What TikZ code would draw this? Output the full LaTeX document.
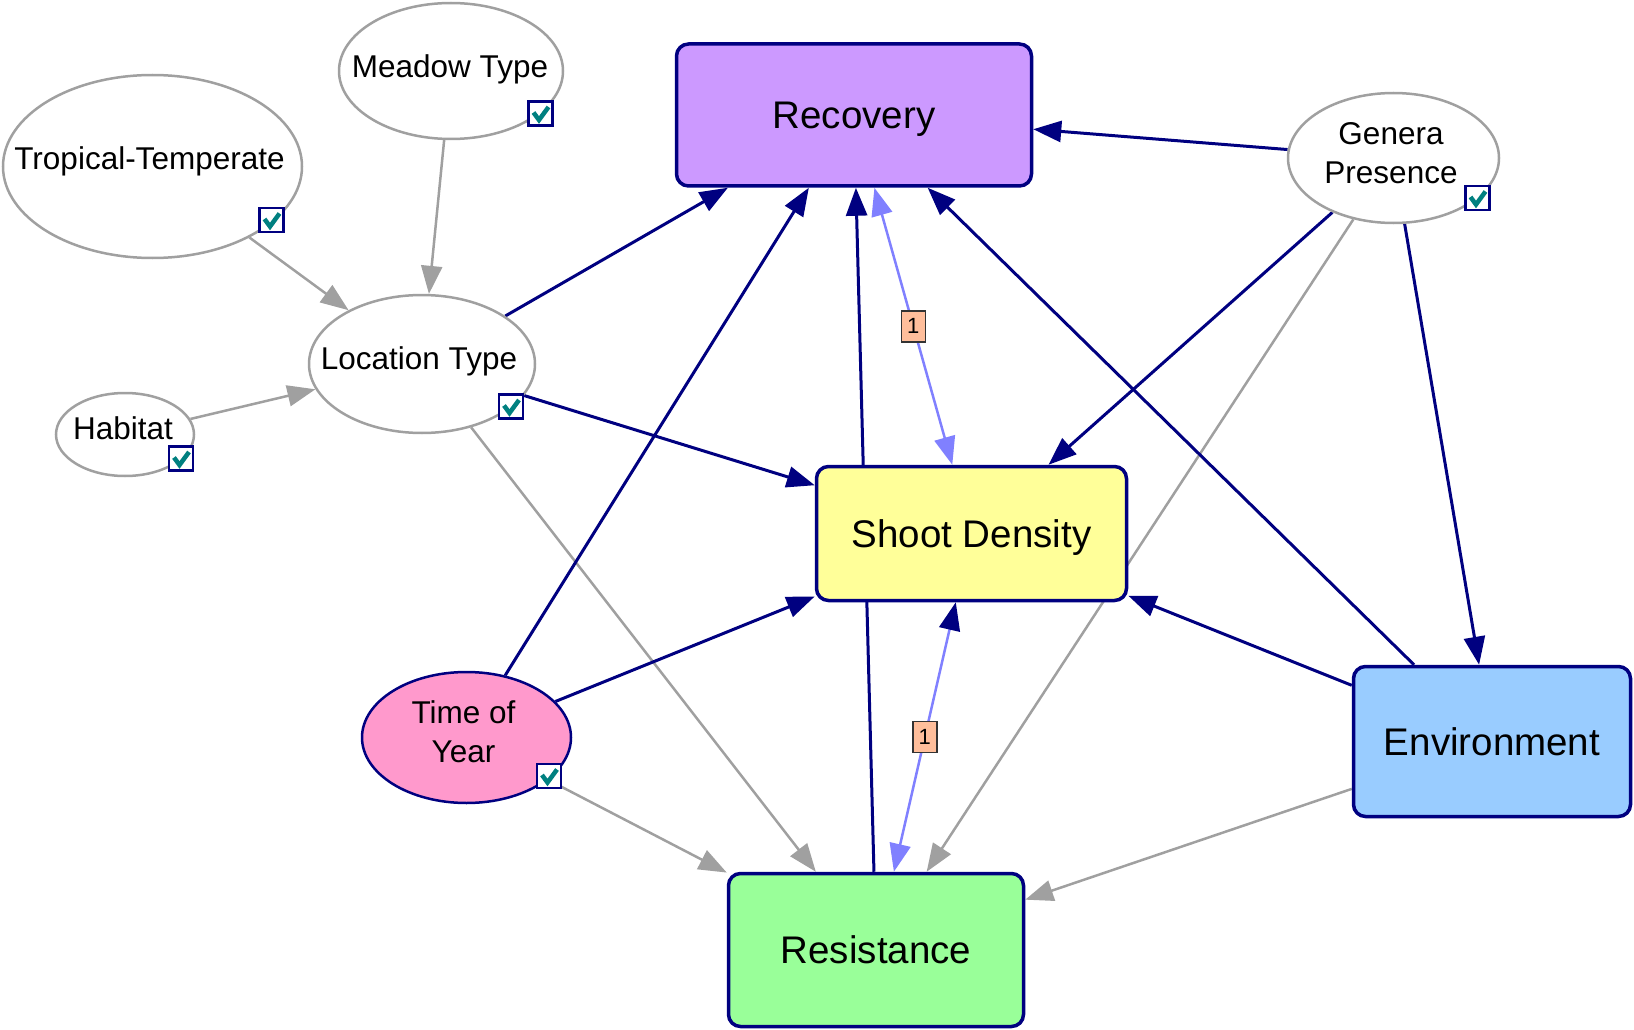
\documentclass[tikz,border=0pt]{standalone}
\usepackage{fontspec}
\setmainfont{Liberation Sans}
\usetikzlibrary{shapes.geometric,arrows.meta,calc}
\pgfdeclarelayer{edges}
\pgfsetlayers{edges,main}

\definecolor{navyc}{RGB}{0,0,128}
\definecolor{grayc}{RGB}{160,160,160}
\definecolor{lblue}{RGB}{128,128,255}
\definecolor{tealc}{RGB}{0,128,128}
\definecolor{recfill}{RGB}{204,153,255}
\definecolor{sdfill}{RGB}{255,255,153}
\definecolor{envfill}{RGB}{153,204,255}
\definecolor{resfill}{RGB}{153,255,153}
\definecolor{toyfill}{RGB}{255,153,204}
\definecolor{tagfill}{RGB}{255,190,155}

\tikzset{
  box/.style={rectangle, rounded corners=12pt, draw=navyc, line width=3.5pt,
    inner sep=0pt, font=\fontsize{38.5}{44}\selectfont,
    text height=27.5pt, text depth=0pt},
  ell/.style={ellipse, draw=grayc, line width=2.5pt, fill=white, inner sep=0pt},
  lbl/.style={font=\fontsize{31.5}{37}\selectfont, inner sep=0pt, anchor=base},
  navyarrow/.style={draw=navyc, line width=3pt, -{Triangle[length=28pt,width=21pt]}},
  grayarrow/.style={draw=grayc, line width=2.5pt, -{Triangle[length=28pt,width=21pt]}},
  blueline/.style={draw=lblue, line width=2.5pt},
  tag/.style={rectangle, draw=black!80, fill=tagfill, line width=1.5pt,
    minimum width=24pt, minimum height=31pt, inner sep=0pt,
    font=\fontsize{22}{22}\selectfont},
  chk/.pic={
    \draw[navyc, line width=2.2pt, fill=white] (-12,-12) rectangle (12,12);
    \draw[tealc, line width=4.5pt] (-7,-1) -- (-1.5,6.5) -- (8,-6.5);
  }
}

\begin{document}
\begin{tikzpicture}[x=1pt, y=-1pt]
\useasboundingbox (0,0) rectangle (1634,1030);

% main variables
\node[box, fill=recfill, minimum width=355pt, minimum height=142pt] (rec) at (854,115) {Recovery};
\node[box, fill=sdfill, minimum width=310pt, minimum height=134pt] (sd) at (971.5,533.5) {Shoot Density};
\node[box, fill=envfill, minimum width=277pt, minimum height=150pt] (env) at (1492,741.5) {Environment};
\node[box, fill=resfill, minimum width=295pt, minimum height=153pt] (res) at (876,950) {Resistance};

% context variables
\node[ell, minimum width=224pt, minimum height=136pt] (mt) at (451,71) {};
\node[ell, minimum width=299pt, minimum height=183pt] (tt) at (152.5,166.5) {};
\node[ell, minimum width=226pt, minimum height=138pt] (lt) at (422,364) {};
\node[ell, minimum width=138pt, minimum height=83pt] (hab) at (125,434.5) {};
\node[ell, minimum width=211pt, minimum height=130pt] (gp) at (1393.5,158) {};
\node[ell, draw=navyc, fill=toyfill, minimum width=209pt, minimum height=131pt] (toy) at (466.5,737.5) {};

\node[lbl] (mtl) at (450,78) {Meadow Type};
\node[lbl] (ttl) at (149.5,170) {Tropical-Temperate};
\node[lbl] (ltl) at (419,369) {Location Type};
\node[lbl] (habl) at (123,439) {Habitat};
\node[lbl] (gpl1) at (1391,145) {Genera};
\node[lbl] (gpl2) at (1391,183) {Presence};
\node[lbl] (toyl1) at (463.5,723) {Time of};
\node[lbl] (toyl2) at (463.5,762) {Year};

% observed-state check boxes
\pic at (540.5,113.5) {chk};
\pic at (271.5,220) {chk};
\pic at (511,406.5) {chk};
\pic at (181,458.5) {chk};
\pic at (1477.5,198) {chk};
\pic at (549,776) {chk};

\begin{pgfonlayer}{edges}
  % grey links
  \draw[grayarrow] (mt) -- (lt);
  \draw[grayarrow] (tt) -- (lt);
  \draw[grayarrow] (hab) -- (lt);
  \draw[grayarrow] (lt) -- (res);
  \draw[grayarrow] (toy) -- (res);
  \draw[grayarrow] (gp) -- (res);
  \draw[grayarrow] (env) -- (res);
  % navy links
  \draw[navyarrow] (gp) -- (rec);
  \draw[navyarrow] (lt) -- (rec);
  \draw[navyarrow] (toy) -- (rec);
  \draw[navyarrow] (res) -- (rec);
  \draw[navyarrow] (env) -- (rec);
  \draw[navyarrow] (lt) -- (sd);
  \draw[navyarrow] (gp) -- (sd);
  \draw[navyarrow] (gp) -- (env);
  \draw[navyarrow] (toy) -- (sd);
  \draw[navyarrow] (env) -- (sd);
  % two-way links
  \draw[blueline, {Triangle[length=28pt,width=21pt]}-{Triangle[length=28pt,width=21pt]}]
    (rec) -- node[tag] (t1) {1} (sd);
  \draw[blueline, {Triangle[length=28pt,width=21pt,color=navyc]}-{Triangle[length=28pt,width=21pt]}]
    (sd) -- node[tag] (t2) {1} (res);
\end{pgfonlayer}
\end{tikzpicture}
\end{document}
